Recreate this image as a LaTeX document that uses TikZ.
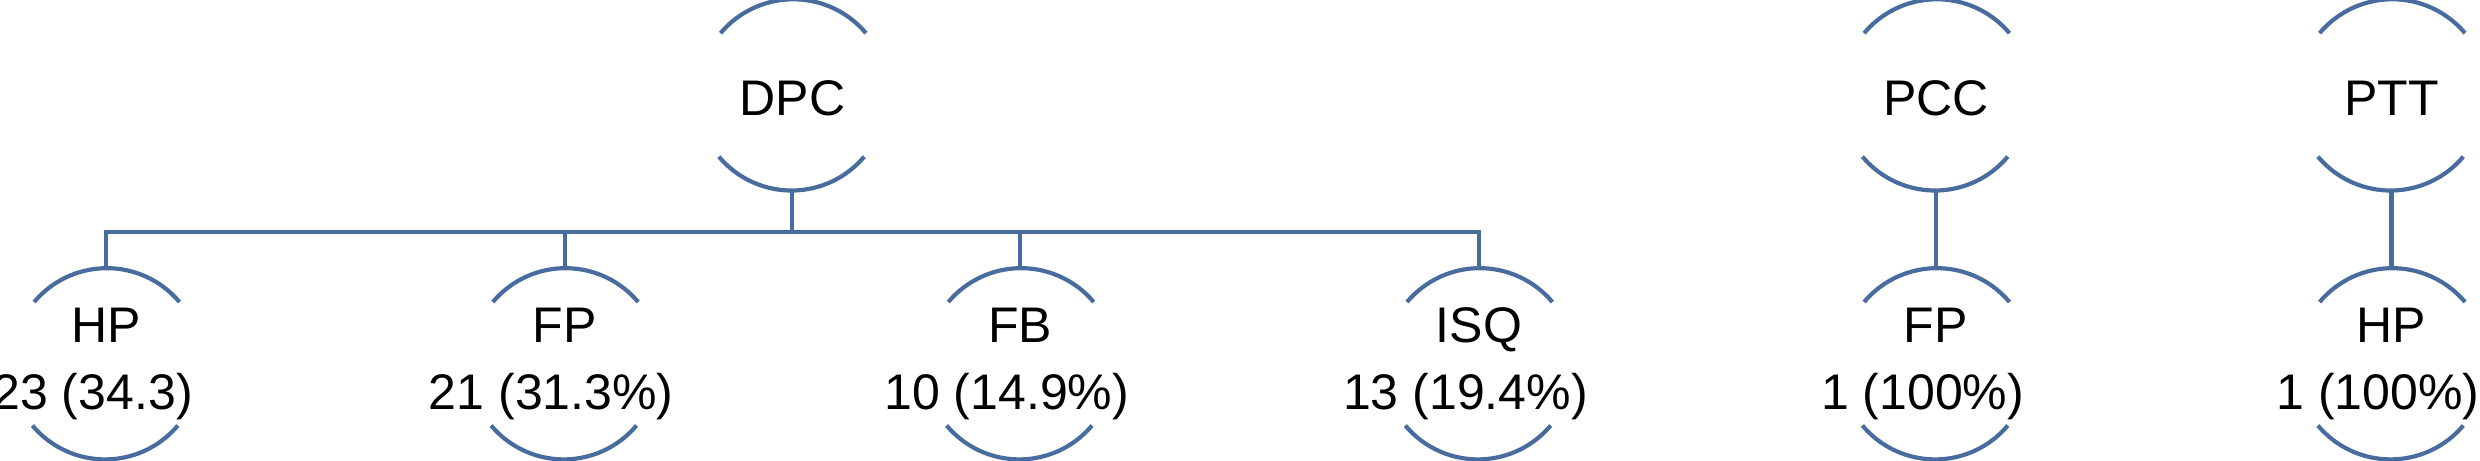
\documentclass[tikz,border=0pt]{standalone}
\usepackage{fontspec}
\setmainfont{Liberation Sans}
\definecolor{lineblue}{RGB}{72,108,158}
\newcommand{\toplabel}[1]{\smash{\makebox[0pt]{\raisebox{-3.6pt}{\begin{tabular}{@{}c@{}}#1\end{tabular}}}}}
\newcommand{\botlabel}[2]{\smash{\makebox[0pt]{\raisebox{-2pt}{\begin{tabular}{@{}c@{}}#1\\#2\rule{4.8pt}{0pt}\end{tabular}}}}}
\begin{document}
\begin{tikzpicture}[
  catnode/.style={circle, minimum size=1.2cm, inner sep=0pt,
    font=\fontsize{9}{12.2}\selectfont},
  link/.style={draw=lineblue, line width=0.75pt},
  rim/.style={draw=lineblue, line width=0.75pt}
]
\useasboundingbox (0,0) rectangle (15.68,2.91);
% top nodes
\node[catnode] (dpc) at (5.01,2.31) {\toplabel{DPC}};
\node[catnode] (pcc) at (12.24,2.31) {\toplabel{PCC}};
\node[catnode] (ptt) at (15.12,2.31) {\toplabel{PTT}};
% bottom nodes
\node[catnode] (hpA) at (0.67,0.61) {\botlabel{HP}{23 (34.3)}};
\node[catnode] (fpA) at (3.57,0.61) {\botlabel{FP}{21 (31.3\%)}};
\node[catnode] (fbA) at (6.45,0.61) {\botlabel{FB}{10 (14.9\%)}};
\node[catnode] (isq) at (9.35,0.61) {\botlabel{ISQ}{13 (19.4\%)}};
\node[catnode] (fpB) at (12.24,0.61) {\botlabel{FP}{1 (100\%)}};
\node[catnode] (hpB) at (15.12,0.61) {\botlabel{HP}{1 (100\%)}};
% arcs
\foreach \n in {dpc,pcc,ptt,hpA,fpA,fbA,isq,fpB,hpB}{
  \draw[rim] (\n.40) arc[start angle=40,end angle=140,radius=0.6cm];
  \draw[rim] (\n.220) arc[start angle=220,end angle=320,radius=0.6cm];
}
% connectors
\foreach \c in {hpA,fpA,fbA,isq}{
  \draw[link] (dpc.south) -- ++(0,-0.26) -| (\c.north);
}
\draw[link] (pcc.south) -- (fpB.north);
\draw[link] (ptt.south) -- (hpB.north);
\end{tikzpicture}
\end{document}
